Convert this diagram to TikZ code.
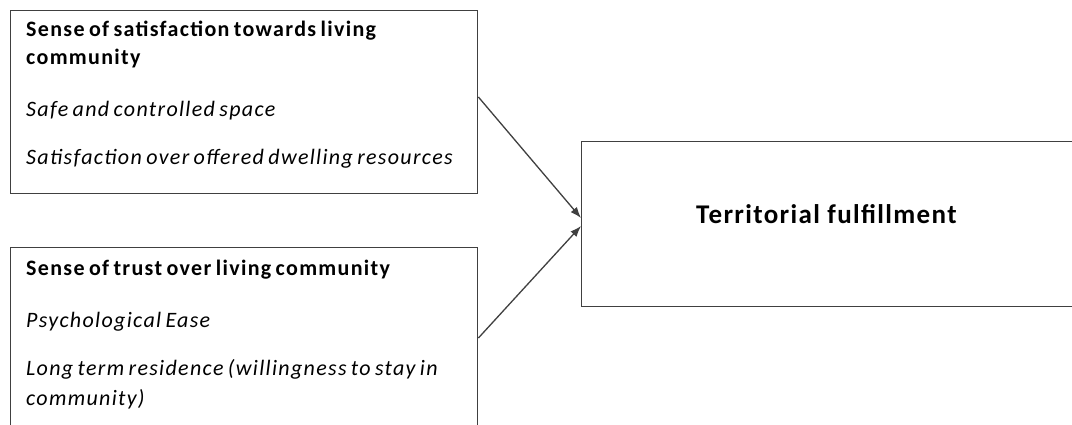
\documentclass[tikz,border=0pt]{standalone}
\usepackage{fontspec}
\setmainfont{Carlito}
\newfontfamily\bodyfont[LetterSpace=6,WordSpace=0.7]{Carlito}
\newfontfamily\titlefont[LetterSpace=5]{Carlito}
\usetikzlibrary{arrows.meta}
\definecolor{frame}{HTML}{404040}
\tikzset{
  box/.style={draw=frame, line width=1.4pt, inner sep=0pt, anchor=north west},
  txt/.style={anchor=base west, inner sep=0pt, font=\bodyfont\fontsize{22}{28}\selectfont\itshape},
  head/.style={txt, font=\bodyfont\fontsize{22}{28}\selectfont\bfseries},
  link/.style={draw=frame, line width=1.3pt, -{Latex[length=11pt,width=8pt]}}
}
\begin{document}
\begin{tikzpicture}[x=1pt,y=-1pt]
\clip (0,0) rectangle (1072,425);
\fill[white] (0,0) rectangle (1072,425);
% left boxes
\node[box, minimum width=467pt, minimum height=183pt] (sat) at (10,10) {};
\node[box, minimum width=467pt, minimum height=200pt] (trust) at (10,247) {};
% outcome box
\node[box, minimum width=500pt, minimum height=165pt] (terr) at (581,141) {};
% texts of the first box
\node[head] (s1) at (26,37) {Sense of satisfaction towards living};
\node[head] (s2) at (26,65) {community};
\node[txt] (s3) at (26,117) {Safe and controlled space};
\node[txt] (s4) at (26,165) {Satisfaction over offered dwelling resources};
% texts of the second box
\node[head] (t1) at (26,276) {Sense of trust over living community};
\node[txt] (t2) at (26,327) {Psychological Ease};
\node[txt] (t3) at (26,375) {Long term residence (willingness to stay in};
\node[txt] (t4) at (26,405) {community)};
% outcome label
\node[anchor=base west, inner sep=0pt, font=\titlefont\fontsize{27}{30}\selectfont\bfseries] (tf) at (696,223) {Territorial fulfillment};
% connectors
\coordinate (satout) at ([yshift=-87pt]sat.north east);
\coordinate (trustout) at ([yshift=-91pt]trust.north east);
\coordinate (in1) at ([yshift=-77pt]terr.north west);
\coordinate (in2) at ([yshift=-85pt]terr.north west);
\draw[link] (satout) -- (in1);
\draw[link] (trustout) -- (in2);
\end{tikzpicture}
\end{document}
